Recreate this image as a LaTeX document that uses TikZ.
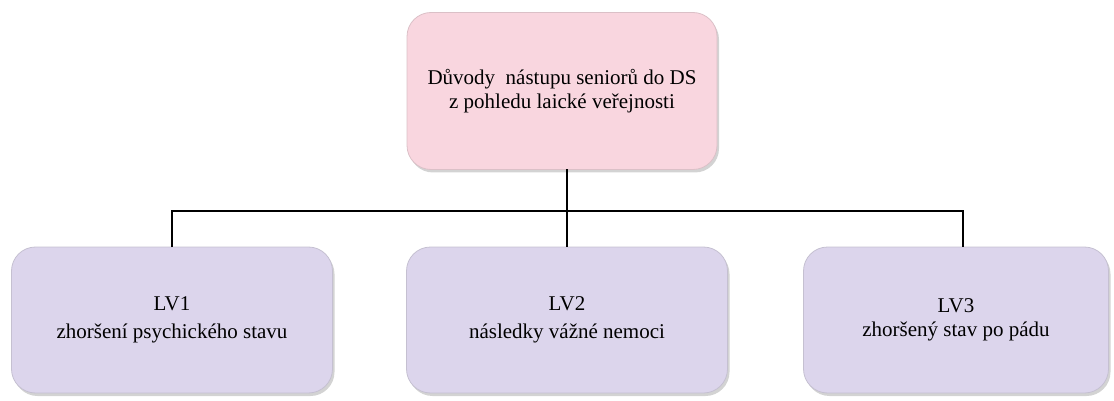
\documentclass[tikz,border=0pt]{standalone}
\usepackage{fontspec}
\setmainfont{Liberation Serif}
\usetikzlibrary{positioning,shadows}
\usepackage{xcolor}

\tikzset{
  box/.style={draw=#1!75!gray, line width=0.8pt, fill=#1, rounded corners=24pt,
    minimum height=146pt, minimum width=321pt, align=center, outer sep=0pt,
    font=\fontsize{21}{24}\selectfont,
    drop shadow={shadow xshift=2pt, shadow yshift=-3pt, opacity=0.35, fill=gray}},
  conn/.style={draw=black, line width=2.2pt}
}

\begin{document}
\begin{tikzpicture}[x=1pt, y=-1pt]
			% Define colors
			\definecolor{toppink}{HTML}{F9D6DF}   % soft pink
			\definecolor{lvlilac}{HTML}{DCD5EC}   % pale lavender
			
			\useasboundingbox (0,0) rectangle (1114,401);
			
			% Top box
			\node[box=toppink, minimum width=310pt, minimum height=157pt] (top) at (562,91) {D\r{u}vody \ nástupu seniorů do DS\\z pohledu laické veřejnosti};
			
			% Bottom boxes
			\node[box=lvlilac] (lv1) at (172,320) {LV1\\[4pt]zhoršení psychického stavu};
			\node[box=lvlilac] (lv2) at (567,320) {LV2\\[4pt]následky vážné nemoci};
			\node[box=lvlilac, minimum width=305pt] (lv3) at (956,320) {LV3\\zhoršený stav po pádu};
			
			% Connectors
			\coordinate (split) at (567,211);
			\coordinate (right) at (963,211);
			\draw[conn] (lv2.north |- top.south) -- (lv2.north);
			\draw[conn] (lv1.north) |- (split) -- (right) -- (right |- lv3.north);
		\end{tikzpicture}
\end{document}
